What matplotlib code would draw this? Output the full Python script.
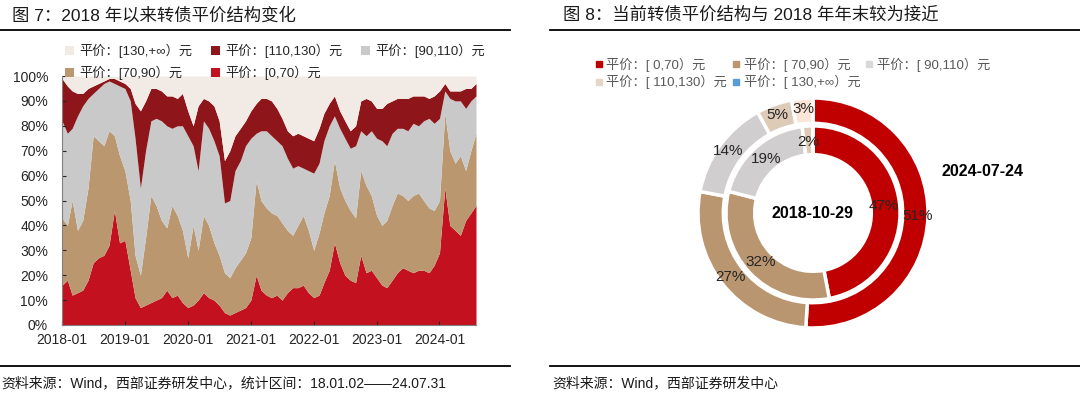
import matplotlib
matplotlib.use('Agg')
import matplotlib.pyplot as plt
import matplotlib.dates as mdates
from matplotlib.patches import Patch
from matplotlib.lines import Line2D
import numpy as np
import pandas as pd

plt.rcParams['font.family'] = ['Liberation Sans', 'Noto Sans CJK SC', 'DejaVu Sans']

# ---- left chart: cumulative share of bonds by conversion value (%), month by month ----
dates = list(pd.date_range('2018-01-01', periods=79, freq='MS')) + [pd.Timestamp('2024-07-31')]

# share with value below 70 / 90 / 110 / 130 (cumulative, %)
below_70 = [16, 18, 12, 13, 14, 18, 25, 27, 28, 32, 46, 33, 34, 22, 11, 7, 8, 9, 10, 11,
            14, 11, 12, 9, 7, 8, 10, 13, 11, 10, 8, 5, 4, 5, 6, 7, 10, 20, 14, 12,
            11, 12, 10, 13, 15, 15, 16, 13, 11, 12, 17, 22, 33, 25, 20, 18, 17, 28, 21, 22,
            19, 16, 15, 18, 21, 23, 22, 21, 22, 22, 21, 24, 29, 55, 40, 38, 36, 42, 45, 48]
below_90 = [43, 40, 50, 38, 42, 55, 76, 74, 72, 78, 76, 68, 62, 50, 28, 20, 35, 52, 48, 42,
            39, 48, 44, 38, 27, 40, 30, 44, 40, 33, 28, 21, 19, 23, 26, 29, 35, 58, 50, 47,
            45, 44, 41, 38, 36, 40, 44, 38, 30, 37, 45, 52, 66, 55, 50, 46, 43, 62, 56, 52,
            44, 40, 42, 48, 53, 52, 50, 52, 53, 50, 47, 46, 50, 85, 70, 65, 68, 62, 70, 77]
below_110 = [82, 77, 79, 84, 88, 91, 93, 95, 97, 98, 97, 96, 95, 90, 75, 55, 70, 82, 83, 82,
             80, 79, 80, 80, 76, 72, 62, 82, 79, 74, 68, 49, 50, 62, 66, 72, 75, 77, 78, 78,
             76, 74, 72, 67, 63, 64, 63, 62, 61, 65, 74, 80, 84, 79, 75, 71, 72, 78, 76, 78,
             75, 74, 72, 77, 79, 79, 78, 81, 80, 82, 83, 81, 83, 94, 91, 90, 90, 87, 90, 92]
below_130 = [99, 96, 94, 93, 93, 95, 96, 97, 98, 99, 99, 98, 97, 95, 89, 86, 90, 95, 95, 94,
             92, 92, 91, 93, 86, 80, 88, 91, 90, 88, 82, 66, 70, 76, 79, 82, 86, 89, 91, 91,
             90, 87, 83, 78, 76, 77, 76, 75, 74, 79, 85, 89, 92, 86, 82, 78, 80, 90, 91, 90,
             87, 87, 89, 90, 91, 91, 91, 92, 92, 92, 91, 92, 94, 97, 94, 94, 94, 95, 95, 97]

left_labels = ['平价：[0,70）元', '平价：[70,90）元', '平价：[90,110）元',
               '平价：[110,130）元', '平价：[130,+∞）元']
left_colors = ['#C3111F', '#BA976F', '#C9C9C9', '#8E1519', '#F2EAE5']

# ---- right chart: donut, share (%) ----
ring_labels = ['平价：[ 0,70）元', '平价：[ 70,90）元', '平价：[ 90,110）元',
               '平价：[ 110,130）元', '平价：[ 130,+∞）元']
share_2024 = [51, 27, 14, 5, 3]
share_2018 = [47, 32, 19, 2, 0]
ring_colors = ['#C00000', '#BA9670', '#D0CECE', '#DDCBB8', '#FBE5D6']
legend_marker_colors = ['#C00000', '#BA9670', '#D9D9D9', '#E5D6C8', '#5B9BD5']

fig = plt.figure(figsize=(10.8, 3.99), dpi=100)

# titles, rules and sources
fig.text(12 / 1080, 1 - 15 / 399, '图 7：2018 年以来转债平价结构变化', fontsize=12.5,
         color='#1a1a1a', va='center', ha='left')
fig.text(563 / 1080, 1 - 15 / 399, '图 8：当前转债平价结构与 2018 年年末较为接近', fontsize=12.5,
         color='#1a1a1a', va='center', ha='left')
for x0, x1 in [(0, 510), (550, 1080)]:
    for y in (30, 366):
        fig.add_artist(Line2D([x0 / 1080, x1 / 1080], [1 - y / 399, 1 - y / 399],
                              transform=fig.transFigure, color='black', lw=1.3))
fig.text(1 / 1080, 1 - 383 / 399, '资料来源：Wind，西部证券研发中心，统计区间：18.01.02——24.07.31',
         fontsize=10, color='#1a1a1a', va='center', ha='left')
fig.text(552 / 1080, 1 - 383 / 399, '资料来源：Wind，西部证券研发中心',
         fontsize=10, color='#1a1a1a', va='center', ha='left')

# ---- left: stacked area ----
ax = fig.add_axes([62 / 1080, 1 - 325 / 399, 414 / 1080, 249 / 399])
lower = np.zeros(len(dates))
bounds = [below_70, below_90, below_110, below_130, [100] * len(dates)]
for upper, color in zip(bounds, left_colors):
    upper = np.array(upper, dtype=float)
    ax.fill_between(dates, lower, upper, color=color, lw=0)
    lower = upper

ax.set_xlim(pd.Timestamp('2018-01-01'), pd.Timestamp('2024-07-31'))
ax.set_ylim(0, 100)
ax.set_yticks(range(0, 101, 10))
ax.set_yticklabels([f'{v}%' for v in range(0, 101, 10)])
ax.set_xticks([pd.Timestamp(f'{y}-01-01') for y in range(2018, 2025)])
ax.xaxis.set_major_formatter(mdates.DateFormatter('%Y-%m'))
ax.tick_params(axis='both', labelsize=10, colors='#262626', direction='in', length=3, width=0.8)
ax.tick_params(axis='x', pad=6)
ax.tick_params(axis='y', pad=10)
for side in ('top', 'right'):
    ax.spines[side].set_visible(False)
for side in ('left', 'bottom'):
    ax.spines[side].set_color('#808080')

handles = [Patch(facecolor=c, edgecolor='none') for c in left_colors]
order = [4, 1, 3, 0, 2]
fig.legend([handles[i] for i in order], [left_labels[i] for i in order],
           loc='upper left', bbox_to_anchor=(58 / 1080, 1 - 37 / 399), ncol=3,
           frameon=False, fontsize=9.5, handlelength=0.7, handleheight=0.7,
           handletextpad=0.4, columnspacing=1.4, labelspacing=0.6, borderpad=0,
           labelcolor='#262626')

# ---- right: double donut ----
ax2 = fig.add_axes([(813 - 143.75) / 1080, (399 - 213 - 143.75) / 399, 287.5 / 1080, 287.5 / 399])


def pct_label(p):
    return f'{p:.0f}%' if p >= 1 else ''


wedge_style = dict(edgecolor='white', linewidth=2.5)
ax2.pie(share_2024, colors=ring_colors, radius=1.0, startangle=90, counterclock=False,
        wedgeprops=dict(width=0.22, **wedge_style), autopct=pct_label, pctdistance=0.91,
        textprops=dict(fontsize=11, color='#262626'))
ax2.pie(share_2018, colors=ring_colors, radius=0.757, startangle=90, counterclock=False,
        wedgeprops=dict(width=0.25, **wedge_style), autopct=pct_label, pctdistance=0.82,
        textprops=dict(fontsize=11, color='#262626'))
ax2.set_xlim(-1.25, 1.25)
ax2.set_ylim(-1.25, 1.25)
ax2.set_aspect('equal')
ax2.text(0, 0, '2018-10-29', ha='center', va='center', fontsize=11.5, fontweight='bold', color='black')
fig.text(982 / 1080, 1 - 172 / 399, '2024-07-24', ha='center', va='center', fontsize=11.5,
         fontweight='bold', color='black')

mk = [Line2D([], [], ls='none', marker='s', markersize=4, color=c) for c in legend_marker_colors]
order2 = [0, 3, 1, 4, 2]
fig.legend([mk[i] for i in order2], [ring_labels[i] for i in order2],
           loc='upper left', bbox_to_anchor=(588 / 1080, 1 - 51 / 399), ncol=3,
           frameon=False, fontsize=9.5, handlelength=0.6, handletextpad=0.3,
           columnspacing=0.35, labelspacing=0.25, borderpad=0, labelcolor='#595959')

fig.savefig('out.png', dpi=100)
